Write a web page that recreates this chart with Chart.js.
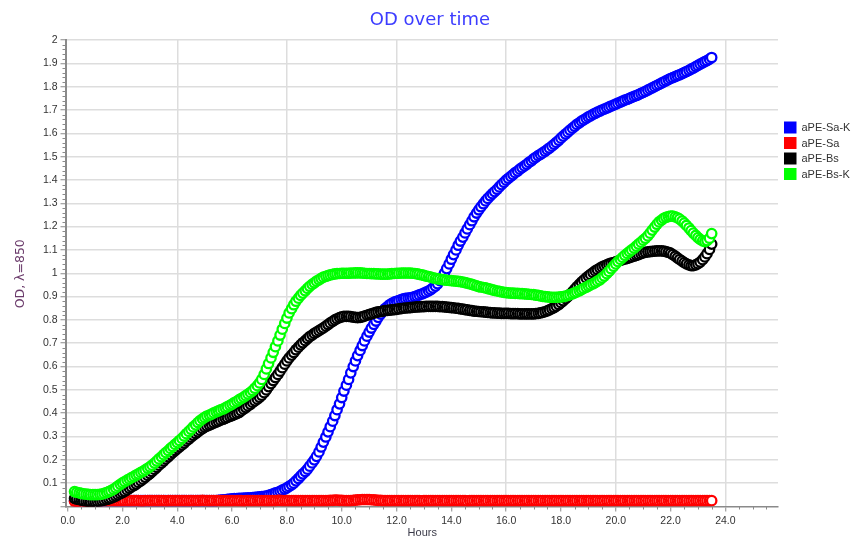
<!DOCTYPE html>
<html>
<head>
<meta charset="utf-8">
<title>OD over time</title>
<script src="https://cdn.jsdelivr.net/npm/chart.js@4.4.1/dist/chart.umd.min.js"></script>
<style>
  html, body { margin: 0; padding: 0; background: #ffffff; }
  #wrap { width: 859px; height: 539px; position: relative; }
</style>
</head>
<body>
<div id="wrap"><canvas id="odChart" width="859" height="539"></canvas></div>
<script>
// Sampling times (hours), one plate reading every 5 minutes
const hours = [
  0.25, 0.33, 0.42, 0.5, 0.58, 0.67, 0.75, 0.83, 0.92, 1, 1.08, 1.17,
  1.25, 1.33, 1.42, 1.5, 1.58, 1.67, 1.75, 1.83, 1.92, 2, 2.08, 2.17,
  2.25, 2.33, 2.42, 2.5, 2.58, 2.67, 2.75, 2.83, 2.92, 3, 3.08, 3.17,
  3.25, 3.33, 3.42, 3.5, 3.58, 3.67, 3.75, 3.83, 3.92, 4, 4.08, 4.17,
  4.25, 4.33, 4.42, 4.5, 4.58, 4.67, 4.75, 4.83, 4.92, 5, 5.08, 5.17,
  5.25, 5.33, 5.42, 5.5, 5.58, 5.67, 5.75, 5.83, 5.92, 6, 6.08, 6.17,
  6.25, 6.33, 6.42, 6.5, 6.58, 6.67, 6.75, 6.83, 6.92, 7, 7.08, 7.17,
  7.25, 7.33, 7.42, 7.5, 7.58, 7.67, 7.75, 7.83, 7.92, 8, 8.08, 8.17,
  8.25, 8.33, 8.42, 8.5, 8.58, 8.67, 8.75, 8.83, 8.92, 9, 9.08, 9.17,
  9.25, 9.33, 9.42, 9.5, 9.58, 9.67, 9.75, 9.83, 9.92, 10, 10.08, 10.17,
  10.25, 10.33, 10.42, 10.5, 10.58, 10.67, 10.75, 10.83, 10.92, 11, 11.08, 11.17,
  11.25, 11.33, 11.42, 11.5, 11.58, 11.67, 11.75, 11.83, 11.92, 12, 12.08, 12.17,
  12.25, 12.33, 12.42, 12.5, 12.58, 12.67, 12.75, 12.83, 12.92, 13, 13.08, 13.17,
  13.25, 13.33, 13.42, 13.5, 13.58, 13.67, 13.75, 13.83, 13.92, 14, 14.08, 14.17,
  14.25, 14.33, 14.42, 14.5, 14.58, 14.67, 14.75, 14.83, 14.92, 15, 15.08, 15.17,
  15.25, 15.33, 15.42, 15.5, 15.58, 15.67, 15.75, 15.83, 15.92, 16, 16.08, 16.17,
  16.25, 16.33, 16.42, 16.5, 16.58, 16.67, 16.75, 16.83, 16.92, 17, 17.08, 17.17,
  17.25, 17.33, 17.42, 17.5, 17.58, 17.67, 17.75, 17.83, 17.92, 18, 18.08, 18.17,
  18.25, 18.33, 18.42, 18.5, 18.58, 18.67, 18.75, 18.83, 18.92, 19, 19.08, 19.17,
  19.25, 19.33, 19.42, 19.5, 19.58, 19.67, 19.75, 19.83, 19.92, 20, 20.08, 20.17,
  20.25, 20.33, 20.42, 20.5, 20.58, 20.67, 20.75, 20.83, 20.92, 21, 21.08, 21.17,
  21.25, 21.33, 21.42, 21.5, 21.58, 21.67, 21.75, 21.83, 21.92, 22, 22.08, 22.17,
  22.25, 22.33, 22.42, 22.5, 22.58, 22.67, 22.75, 22.83, 22.92, 23, 23.08, 23.17,
  23.25, 23.33, 23.42, 23.5
];

// OD readings (λ = 850 nm) for each culture, one row per hour
const odSaK = [
  0.025, 0.025, 0.025, 0.025, 0.025, 0.025, 0.025, 0.025, 0.025, 0.025, 0.025, 0.025,
  0.025, 0.025, 0.025, 0.025, 0.025, 0.025, 0.025, 0.025, 0.025, 0.025, 0.025, 0.025,
  0.025, 0.025, 0.025, 0.025, 0.025, 0.025, 0.025, 0.025, 0.025, 0.025, 0.025, 0.025,
  0.025, 0.025, 0.025, 0.025, 0.025, 0.025, 0.025, 0.025, 0.025, 0.025, 0.025, 0.025,
  0.025, 0.025, 0.025, 0.025, 0.025, 0.025, 0.025, 0.025, 0.025, 0.025, 0.025, 0.025,
  0.025, 0.025, 0.025, 0.026, 0.027, 0.028, 0.029, 0.031, 0.032, 0.033, 0.034, 0.034,
  0.035, 0.035, 0.036, 0.036, 0.037, 0.037, 0.038, 0.039, 0.040, 0.041, 0.042, 0.043,
  0.045, 0.048, 0.051, 0.054, 0.058, 0.061, 0.065, 0.070, 0.075, 0.080, 0.086, 0.093,
  0.100, 0.110, 0.120, 0.130, 0.140, 0.150, 0.160, 0.173, 0.187, 0.200, 0.215, 0.234,
  0.255, 0.276, 0.298, 0.320, 0.342, 0.366, 0.390, 0.415, 0.440, 0.467, 0.495, 0.520,
  0.545, 0.573, 0.600, 0.624, 0.647, 0.669, 0.690, 0.710, 0.730, 0.748, 0.765, 0.781,
  0.795, 0.811, 0.825, 0.837, 0.848, 0.857, 0.865, 0.871, 0.876, 0.880, 0.883, 0.887,
  0.890, 0.892, 0.893, 0.895, 0.897, 0.900, 0.903, 0.907, 0.911, 0.915, 0.919, 0.924,
  0.930, 0.937, 0.945, 0.955, 0.968, 0.983, 1.000, 1.020, 1.040, 1.060, 1.080, 1.100,
  1.120, 1.138, 1.155, 1.173, 1.190, 1.208, 1.225, 1.242, 1.258, 1.272, 1.285, 1.298,
  1.310, 1.321, 1.332, 1.341, 1.350, 1.360, 1.370, 1.380, 1.390, 1.399, 1.407, 1.415,
  1.423, 1.431, 1.438, 1.446, 1.453, 1.460, 1.467, 1.475, 1.482, 1.490, 1.497, 1.504,
  1.510, 1.516, 1.523, 1.530, 1.537, 1.545, 1.553, 1.561, 1.570, 1.579, 1.588, 1.597,
  1.605, 1.614, 1.622, 1.630, 1.638, 1.645, 1.652, 1.658, 1.664, 1.670, 1.675, 1.681,
  1.686, 1.691, 1.695, 1.700, 1.704, 1.708, 1.712, 1.717, 1.721, 1.725, 1.729, 1.734,
  1.738, 1.742, 1.746, 1.750, 1.754, 1.758, 1.762, 1.766, 1.771, 1.775, 1.780, 1.785,
  1.790, 1.795, 1.800, 1.805, 1.810, 1.815, 1.820, 1.825, 1.830, 1.835, 1.839, 1.843,
  1.847, 1.851, 1.856, 1.860, 1.865, 1.870, 1.875, 1.880, 1.886, 1.891, 1.897, 1.902,
  1.907, 1.912, 1.918, 1.925
];

const odSa = [
  0.022, 0.022, 0.022, 0.023, 0.023, 0.023, 0.023, 0.024, 0.024, 0.025, 0.025, 0.025,
  0.025, 0.025, 0.025, 0.025, 0.025, 0.025, 0.025, 0.025, 0.025, 0.025, 0.025, 0.025,
  0.025, 0.025, 0.025, 0.025, 0.025, 0.024, 0.024, 0.025, 0.025, 0.025, 0.025, 0.025,
  0.025, 0.025, 0.025, 0.025, 0.024, 0.025, 0.025, 0.025, 0.025, 0.025, 0.025, 0.025,
  0.025, 0.025, 0.025, 0.025, 0.025, 0.025, 0.025, 0.025, 0.026, 0.025, 0.025, 0.025,
  0.025, 0.025, 0.025, 0.025, 0.025, 0.025, 0.025, 0.025, 0.025, 0.025, 0.025, 0.025,
  0.025, 0.025, 0.024, 0.025, 0.025, 0.025, 0.025, 0.025, 0.025, 0.025, 0.025, 0.025,
  0.025, 0.025, 0.025, 0.025, 0.025, 0.026, 0.026, 0.025, 0.025, 0.025, 0.025, 0.025,
  0.025, 0.025, 0.025, 0.025, 0.025, 0.025, 0.025, 0.025, 0.025, 0.025, 0.025, 0.025,
  0.025, 0.025, 0.025, 0.025, 0.026, 0.026, 0.027, 0.027, 0.026, 0.026, 0.025, 0.025,
  0.025, 0.025, 0.026, 0.027, 0.028, 0.029, 0.030, 0.030, 0.030, 0.030, 0.029, 0.028,
  0.027, 0.026, 0.026, 0.025, 0.025, 0.025, 0.025, 0.025, 0.025, 0.025, 0.025, 0.025,
  0.025, 0.025, 0.025, 0.025, 0.025, 0.025, 0.025, 0.025, 0.024, 0.025, 0.025, 0.025,
  0.025, 0.025, 0.025, 0.025, 0.025, 0.025, 0.025, 0.025, 0.025, 0.025, 0.025, 0.025,
  0.025, 0.025, 0.025, 0.025, 0.024, 0.025, 0.025, 0.025, 0.025, 0.025, 0.025, 0.025,
  0.025, 0.025, 0.025, 0.025, 0.025, 0.025, 0.025, 0.025, 0.025, 0.025, 0.025, 0.025,
  0.025, 0.025, 0.025, 0.025, 0.025, 0.025, 0.025, 0.025, 0.025, 0.025, 0.025, 0.025,
  0.025, 0.025, 0.025, 0.025, 0.025, 0.025, 0.025, 0.025, 0.025, 0.025, 0.025, 0.025,
  0.025, 0.025, 0.025, 0.025, 0.025, 0.025, 0.025, 0.025, 0.025, 0.025, 0.025, 0.025,
  0.025, 0.025, 0.025, 0.025, 0.025, 0.025, 0.025, 0.025, 0.025, 0.025, 0.025, 0.025,
  0.025, 0.025, 0.025, 0.025, 0.025, 0.025, 0.025, 0.025, 0.025, 0.025, 0.025, 0.025,
  0.025, 0.025, 0.025, 0.025, 0.025, 0.025, 0.025, 0.025, 0.025, 0.025, 0.025, 0.025,
  0.025, 0.025, 0.025, 0.025, 0.025, 0.025, 0.025, 0.025, 0.025, 0.025, 0.025, 0.025,
  0.025, 0.025, 0.025, 0.025
];

const odBs = [
  0.035, 0.032, 0.030, 0.027, 0.025, 0.023, 0.022, 0.021, 0.021, 0.021, 0.022, 0.023,
  0.025, 0.027, 0.030, 0.033, 0.036, 0.040, 0.045, 0.050, 0.055, 0.060, 0.065, 0.071,
  0.078, 0.084, 0.090, 0.096, 0.103, 0.110, 0.117, 0.125, 0.133, 0.141, 0.150, 0.159,
  0.168, 0.177, 0.186, 0.195, 0.204, 0.213, 0.222, 0.231, 0.240, 0.248, 0.256, 0.264,
  0.272, 0.281, 0.289, 0.297, 0.305, 0.313, 0.320, 0.327, 0.334, 0.340, 0.345, 0.349,
  0.353, 0.358, 0.362, 0.366, 0.370, 0.374, 0.378, 0.382, 0.386, 0.390, 0.394, 0.398,
  0.403, 0.410, 0.417, 0.424, 0.431, 0.438, 0.446, 0.453, 0.460, 0.468, 0.477, 0.488,
  0.500, 0.514, 0.527, 0.540, 0.553, 0.566, 0.580, 0.595, 0.610, 0.624, 0.637, 0.649,
  0.660, 0.672, 0.683, 0.693, 0.702, 0.711, 0.720, 0.728, 0.735, 0.742, 0.748, 0.754,
  0.760, 0.766, 0.773, 0.780, 0.787, 0.794, 0.800, 0.805, 0.810, 0.813, 0.815, 0.815,
  0.815, 0.814, 0.812, 0.811, 0.810, 0.811, 0.813, 0.816, 0.820, 0.823, 0.826, 0.829,
  0.832, 0.834, 0.836, 0.838, 0.840, 0.841, 0.842, 0.843, 0.844, 0.845, 0.847, 0.848,
  0.850, 0.851, 0.852, 0.853, 0.854, 0.855, 0.856, 0.856, 0.857, 0.857, 0.858, 0.858,
  0.858, 0.858, 0.858, 0.858, 0.857, 0.857, 0.856, 0.855, 0.854, 0.853, 0.852, 0.850,
  0.849, 0.847, 0.846, 0.844, 0.843, 0.841, 0.840, 0.838, 0.837, 0.836, 0.835, 0.834,
  0.833, 0.832, 0.831, 0.830, 0.830, 0.829, 0.829, 0.828, 0.828, 0.828, 0.828, 0.827,
  0.827, 0.827, 0.827, 0.826, 0.826, 0.826, 0.826, 0.826, 0.826, 0.826, 0.827, 0.828,
  0.830, 0.832, 0.835, 0.839, 0.843, 0.848, 0.853, 0.859, 0.866, 0.874, 0.882, 0.891,
  0.900, 0.910, 0.920, 0.931, 0.942, 0.952, 0.962, 0.971, 0.980, 0.988, 0.995, 1.003,
  1.010, 1.016, 1.022, 1.027, 1.032, 1.036, 1.040, 1.043, 1.046, 1.049, 1.052, 1.055,
  1.058, 1.061, 1.064, 1.067, 1.070, 1.073, 1.077, 1.080, 1.084, 1.087, 1.090, 1.092,
  1.093, 1.094, 1.095, 1.096, 1.096, 1.096, 1.095, 1.093, 1.090, 1.086, 1.080, 1.073,
  1.066, 1.059, 1.052, 1.046, 1.040, 1.036, 1.033, 1.033, 1.036, 1.041, 1.048, 1.058,
  1.070, 1.084, 1.102, 1.125
];

const odBsK = [
  0.064, 0.061, 0.058, 0.056, 0.054, 0.053, 0.052, 0.051, 0.051, 0.051, 0.051, 0.052,
  0.053, 0.056, 0.060, 0.064, 0.068, 0.074, 0.080, 0.087, 0.095, 0.101, 0.107, 0.113,
  0.118, 0.124, 0.129, 0.135, 0.140, 0.146, 0.151, 0.157, 0.164, 0.170, 0.177, 0.186,
  0.195, 0.204, 0.213, 0.222, 0.231, 0.240, 0.249, 0.257, 0.266, 0.274, 0.283, 0.292,
  0.302, 0.312, 0.322, 0.331, 0.341, 0.350, 0.360, 0.368, 0.376, 0.382, 0.388, 0.392,
  0.396, 0.401, 0.406, 0.410, 0.414, 0.418, 0.423, 0.428, 0.434, 0.439, 0.445, 0.451,
  0.457, 0.463, 0.469, 0.475, 0.482, 0.489, 0.497, 0.507, 0.518, 0.530, 0.545, 0.566,
  0.590, 0.613, 0.637, 0.661, 0.685, 0.710, 0.735, 0.760, 0.785, 0.808, 0.830, 0.848,
  0.865, 0.880, 0.893, 0.905, 0.915, 0.925, 0.935, 0.944, 0.952, 0.959, 0.966, 0.972,
  0.978, 0.983, 0.987, 0.990, 0.993, 0.995, 0.997, 0.998, 0.999, 1.000, 1.000, 1.000,
  1.000, 1.001, 1.001, 1.002, 1.002, 1.002, 1.001, 1.000, 0.999, 0.999, 0.998, 0.998,
  0.997, 0.997, 0.996, 0.996, 0.996, 0.996, 0.997, 0.998, 0.999, 1.000, 1.000, 1.001,
  1.001, 1.001, 1.001, 1.001, 1.000, 0.999, 0.997, 0.995, 0.993, 0.991, 0.988, 0.986,
  0.983, 0.980, 0.978, 0.976, 0.975, 0.973, 0.972, 0.970, 0.969, 0.968, 0.967, 0.966,
  0.965, 0.964, 0.962, 0.960, 0.958, 0.955, 0.952, 0.949, 0.946, 0.943, 0.941, 0.939,
  0.937, 0.934, 0.932, 0.929, 0.927, 0.924, 0.922, 0.920, 0.918, 0.917, 0.916, 0.915,
  0.915, 0.914, 0.914, 0.913, 0.913, 0.912, 0.911, 0.910, 0.909, 0.908, 0.906, 0.905,
  0.903, 0.901, 0.900, 0.899, 0.898, 0.897, 0.897, 0.897, 0.898, 0.899, 0.900, 0.902,
  0.905, 0.908, 0.912, 0.916, 0.920, 0.925, 0.930, 0.935, 0.940, 0.945, 0.950, 0.955,
  0.960, 0.966, 0.972, 0.980, 0.988, 0.998, 1.008, 1.019, 1.030, 1.040, 1.050, 1.059,
  1.068, 1.077, 1.085, 1.093, 1.100, 1.108, 1.116, 1.125, 1.133, 1.142, 1.150, 1.160,
  1.172, 1.185, 1.198, 1.210, 1.220, 1.228, 1.235, 1.240, 1.243, 1.245, 1.245, 1.242,
  1.238, 1.232, 1.224, 1.215, 1.205, 1.194, 1.183, 1.172, 1.162, 1.153, 1.145, 1.139,
  1.136, 1.140, 1.150, 1.170
];

// Series names and axis tick values
const seriesNames = ['aPE-Sa-K', 'aPE-Sa', 'aPE-Bs', 'aPE-Bs-K'];
const xTicks = [0, 2, 4, 6, 8, 10, 12, 14, 16, 18, 20, 22, 24];
const yTicks = [0, 0.1, 0.2, 0.3, 0.4, 0.5, 0.6, 0.7, 0.8, 0.9, 1,
                1.1, 1.2, 1.3, 1.4, 1.5, 1.6, 1.7, 1.8, 1.9, 2];

const FONT = '"Liberation Sans", Arial, sans-serif';
const WIDE_FONT = '"DejaVu Sans", Verdana, sans-serif';
const AXIS_GREY = '#8a8a8a';
const GRID_GREY = '#dddddd';

function toPoints(values) {
  return hours.map((h, i) => ({ x: h, y: values[i] }));
}

// open circle markers; a higher "order" is painted first (further back)
function series(label, values, color, order) {
  return {
    label: label,
    data: toPoints(values),
    borderColor: color,
    backgroundColor: color,
    pointBackgroundColor: '#ffffff',
    pointBorderColor: color,
    pointBorderWidth: 2.3,
    pointRadius: 4.7,
    pointHoverRadius: 4.7,
    showLine: false,
    order: order
  };
}

// Small tick marks between the labelled ticks, plus titles and legend
const decorations = {
  id: 'decorations',
  afterDraw(chart) {
    const ctx = chart.ctx;
    const xs = chart.scales.x;
    const ys = chart.scales.y;
    const area = chart.chartArea;

    ctx.save();
    ctx.strokeStyle = AXIS_GREY;
    ctx.lineWidth = 1;

    // minor ticks on the hours axis every half hour
    for (let h = 0.5; h < xs.max; h += 0.5) {
      if (Math.abs(h / 2 - Math.round(h / 2)) < 1e-6) continue;
      const px = Math.round(xs.getPixelForValue(h)) + 0.5;
      ctx.beginPath();
      ctx.moveTo(px, area.bottom);
      ctx.lineTo(px, area.bottom + 3);
      ctx.stroke();
    }
    // minor ticks on the OD axis every 0.02
    for (let k = 1; k < 100; k++) {
      if (k % 5 === 0) continue;
      const py = Math.round(ys.getPixelForValue(k * 0.02)) + 0.5;
      ctx.beginPath();
      ctx.moveTo(area.left - 3, py);
      ctx.lineTo(area.left, py);
      ctx.stroke();
    }

    // chart title
    ctx.fillStyle = '#3c3cff';
    ctx.font = '18px ' + WIDE_FONT;
    ctx.textAlign = 'center';
    ctx.textBaseline = 'middle';
    ctx.fillText('OD over time', 430, 20);

    // axis titles
    ctx.fillStyle = '#3a3a48';
    ctx.font = '11px ' + FONT;
    ctx.fillText('Hours', (area.left + area.right) / 2 + 0.5, 533);

    ctx.save();
    ctx.translate(21, (area.top + area.bottom) / 2 + 0.5);
    ctx.rotate(-Math.PI / 2);
    ctx.fillStyle = '#6b3b6b';
    ctx.font = '12.5px ' + WIDE_FONT;
    ctx.fillText('OD, \u03bb=850', 0, 0);
    ctx.restore();

    // legend, in series order
    ctx.textAlign = 'left';
    ctx.font = '11px ' + FONT;
    const rowY = [127.5, 143, 158.5, 174];
    chart.data.datasets.forEach((ds, i) => {
      ctx.fillStyle = ds.borderColor;
      ctx.fillRect(784, rowY[i] - 6, 12.5, 12);
      ctx.fillStyle = '#333333';
      ctx.fillText(ds.label, 801.5, rowY[i] + 0.5);
    });
    ctx.restore();
  }
};

new Chart(document.getElementById('odChart'), {
  type: 'scatter',
  data: {
    datasets: [
      series(seriesNames[0], odSaK, '#0000ff', 3),
      series(seriesNames[1], odSa, '#ff0000', 2),
      series(seriesNames[2], odBs, '#000000', 1),
      series(seriesNames[3], odBsK, '#00ff00', 0)
    ]
  },
  options: {
    responsive: false,
    animation: false,
    events: [],
    layout: { padding: { top: 40, right: 81, bottom: 0, left: 0 } },
    plugins: {
      legend: { display: false },
      title: { display: false },
      tooltip: { enabled: false }
    },
    scales: {
      x: {
        type: 'linear',
        min: -0.08,
        max: 25.92,
        afterBuildTicks: s => { s.ticks = xTicks.map(v => ({ value: v })); },
        afterFit: s => { s.height = 32.5; },
        ticks: {
          autoSkip: false,
          maxRotation: 0,
          padding: 3,
          color: '#333333',
          font: { family: FONT, size: 10.5 },
          callback: v => Number(v).toFixed(1)
        },
        grid: {
          color: c => (c.tick && c.tick.value !== 0 && c.tick.value % 4 === 0) ? GRID_GREY : 'rgba(0,0,0,0)',
          lineWidth: 1.5,
          tickLength: 5,
          tickColor: AXIS_GREY,
          tickWidth: 1
        },
        border: { color: AXIS_GREY, width: 1.5 }
      },
      y: {
        type: 'linear',
        min: 0,
        max: 2,
        afterBuildTicks: s => { s.ticks = yTicks.map(v => ({ value: v })); },
        afterFit: s => { s.width = 65.5; },
        ticks: {
          autoSkip: false,
          padding: 3,
          color: '#333333',
          font: { family: FONT, size: 10.5 },
          callback: v => (v === 0 ? '' : String(v))
        },
        grid: {
          color: c => (c.tick && c.tick.value === 0) ? 'rgba(0,0,0,0)' : GRID_GREY,
          lineWidth: 1.5,
          tickLength: 5,
          tickColor: AXIS_GREY,
          tickWidth: 1
        },
        border: { color: AXIS_GREY, width: 2 }
      }
    }
  },
  plugins: [decorations]
});
</script>
</body>
</html>
